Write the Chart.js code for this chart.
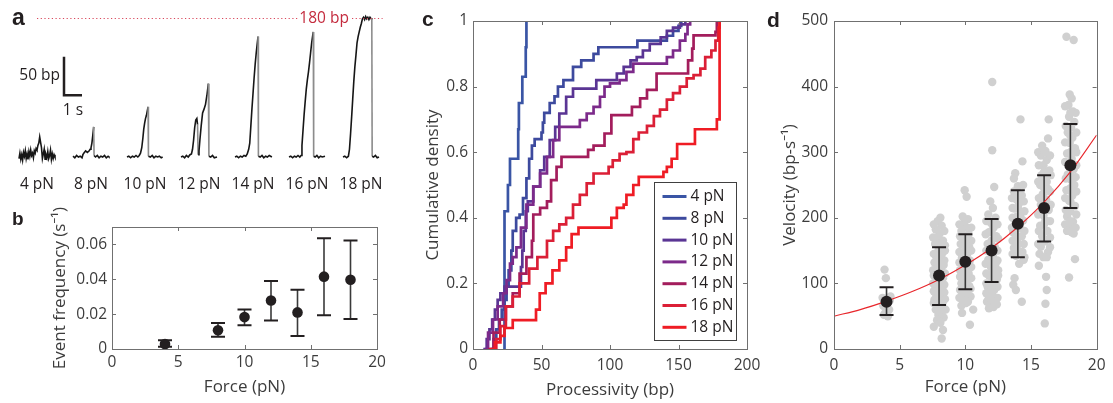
<!DOCTYPE html>
<html>
<head>
<meta charset="utf-8">
<script src="https://cdn.jsdelivr.net/npm/chart.js@4.4.0/dist/chart.umd.min.js"></script>
<style>
  body { margin: 0; background: #fff; width: 1113px; height: 403px; position: relative; overflow: hidden; }
  canvas { position: absolute; }
</style>
</head>
<body>
<canvas id="panelA" width="400" height="200" style="left:0;top:0"></canvas>
<canvas id="panelB" width="400" height="203" style="left:0;top:200px"></canvas>
<canvas id="panelC" width="380" height="403" style="left:400px;top:0"></canvas>
<canvas id="panelD" width="353" height="403" style="left:760px;top:0"></canvas>
<script>
// ---------- data ----------
const forces = [4, 8, 10, 12, 14, 16, 18];
const forceLabels = ['4 pN', '8 pN', '10 pN', '12 pN', '14 pN', '16 pN', '18 pN'];

// a: example traces, [time (s), position (bp)]
const trace4 = [[0,-2],[0.05,5],[0.1,-3],[0.15,3],[0.2,-4],[0.25,6],[0.3,1],[0.35,8],[0.4,-2],[0.45,4],[0.5,-3],[0.55,7],[0.6,1],[0.65,9],[0.7,2],[0.75,5],[0.8,-1],[0.85,8],[0.9,5],[0.95,11],[1.0,9],[1.05,15],[1.1,18],[1.15,26],[1.2,19],[1.25,12],[1.3,-2],[1.35,4],[1.4,10],[1.45,-3],[1.5,3],[1.55,-1],[1.6,7],[1.65,-2],[1.7,2],[1.75,9],[1.8,-3],[1.85,4],[1.9,-2],[1.95,3],[2.0,0]];
const trace8 = [[0,1],[0.1,-1],[0.2,2],[0.3,0],[0.4,1],[0.5,-1],[0.55,3],[0.6,5],[0.7,8],[0.8,6],[0.9,8],[0.95,10],[1.0,12],[1.05,18],[1.1,28],[1.15,39],[1.17,2],[1.25,0],[1.35,2],[1.45,-1],[1.55,1],[1.65,0],[1.75,2],[1.85,-1],[1.95,1],[2.0,0]];
const trace10 = [[0,0],[0.1,1],[0.2,-1],[0.3,1],[0.4,0],[0.5,2],[0.6,0],[0.68,2],[0.75,5],[0.82,12],[0.88,24],[0.93,36],[0.98,44],[1.03,50],[1.08,54],[1.13,60],[1.17,65],[1.19,1],[1.3,0],[1.4,2],[1.5,-1],[1.6,1],[1.7,0],[1.8,1],[1.9,-1],[1.98,0]];
const trace12 = [[0,0],[0.1,1],[0.2,-1],[0.3,2],[0.4,0],[0.5,3],[0.58,4],[0.64,10],[0.7,22],[0.76,38],[0.82,48],[0.88,50],[0.92,42],[0.95,3],[1.0,8],[1.05,22],[1.12,40],[1.2,57],[1.28,62],[1.36,68],[1.44,80],[1.52,95],[1.55,1],[1.65,0],[1.75,2],[1.85,-1],[2.0,0]];
const trace14 = [[0,0],[0.1,1],[0.2,-1],[0.3,1],[0.4,0],[0.5,2],[0.6,1],[0.68,4],[0.76,10],[0.82,18],[0.88,40],[0.94,62],[1.0,82],[1.06,102],[1.12,120],[1.18,135],[1.24,148],[1.28,156],[1.3,1],[1.4,0],[1.5,2],[1.6,-1],[1.7,1],[1.8,0],[1.9,2],[2.05,0]];
const trace16 = [[0,0],[0.1,1],[0.2,-1],[0.3,1],[0.4,0],[0.5,2],[0.6,0],[0.67,2],[0.72,15],[0.78,35],[0.84,55],[0.9,72],[0.96,88],[1.02,100],[1.08,110],[1.14,122],[1.2,135],[1.26,148],[1.32,158],[1.35,162],[1.37,1],[1.45,0],[1.55,2],[1.65,-1],[1.75,1],[1.85,0],[2.0,1]];
const trace18 = [[0,0],[0.1,1],[0.2,-1],[0.3,1],[0.36,10],[0.42,30],[0.48,52],[0.54,75],[0.6,98],[0.66,117],[0.72,132],[0.78,148],[0.84,156],[0.9,162],[0.96,168],[1.02,173],[1.08,179],[1.14,181],[1.2,178],[1.26,182],[1.32,179],[1.38,181],[1.44,178],[1.5,181],[1.56,179],[1.6,180],[1.62,1],[1.7,0],[1.8,2],[1.9,-1],[2.0,0]];
const traces = [trace4, trace8, trace10, trace12, trace14, trace16, trace18];
const traceGap = 3;        // s between trace starts
const fullLength = 180;    // bp

// b: event frequency (1/s)
const freqMean = [0.0028, 0.0108, 0.0183, 0.0278, 0.021, 0.0415, 0.0397];
const freqLow  = [0.0013, 0.007, 0.0136, 0.0164, 0.0075, 0.0193, 0.0172];
const freqHigh = [0.005, 0.0149, 0.0227, 0.039, 0.034, 0.0635, 0.0623];

// c: cumulative processivity, step vertices (bp, density)
const cdf4x  = [22, 23, 25.5, 27, 33, 33.5, 36, 38.5, 39];
const cdf4y  = [0, 0.42, 0.5, 0.58, 0.67, 0.75, 0.83, 0.92, 1];
const cdf8x  = [13, 15, 17, 19, 21, 23, 24.5, 26, 28, 29, 31.5, 34, 36.5, 39, 41, 43, 45, 50, 51, 52, 56, 59.5, 62, 66, 73, 79, 88, 91.5, 118, 120, 139, 141.5, 146, 150, 152];
const cdf8y  = [0, 0.03, 0.06, 0.09, 0.12, 0.15, 0.19, 0.24, 0.3, 0.36, 0.4, 0.41, 0.46, 0.52, 0.58, 0.62, 0.64, 0.66, 0.69, 0.72, 0.75, 0.77, 0.8, 0.82, 0.86, 0.88, 0.9, 0.92, 0.92, 0.94, 0.94, 0.955, 0.97, 0.985, 1];
const cdf10x = [7.5, 10, 12, 14, 16, 18, 20, 23, 34, 35, 36, 37, 38.5, 40, 44, 49, 52, 56, 60, 63, 68, 73, 88, 90, 102, 105, 110, 115, 119.5, 124, 129, 137, 141.5, 146, 151, 155];
const cdf10y = [0, 0.03, 0.06, 0.09, 0.12, 0.15, 0.17, 0.19, 0.19, 0.25, 0.3, 0.36, 0.42, 0.45, 0.495, 0.545, 0.586, 0.637, 0.677, 0.718, 0.769, 0.794, 0.794, 0.82, 0.82, 0.84, 0.86, 0.88, 0.89, 0.91, 0.93, 0.95, 0.97, 0.98, 0.99, 1];
const cdf12x = [8.5, 11, 14.6, 18, 22, 24.5, 27, 29, 31.7, 35, 39, 44, 49, 54, 58.5, 63, 78, 83, 88, 92.7, 96, 100, 107, 112, 117, 139, 141.5, 146, 151, 155, 156.6, 158.5];
const cdf12y = [0, 0.05, 0.09, 0.13, 0.17, 0.21, 0.26, 0.28, 0.31, 0.37, 0.44, 0.495, 0.535, 0.586, 0.637, 0.677, 0.698, 0.718, 0.738, 0.769, 0.8, 0.81, 0.82, 0.845, 0.87, 0.87, 0.89, 0.91, 0.94, 0.96, 0.99, 1];
const cdf14x = [11, 15, 19.5, 24, 29, 34, 39, 43, 44, 49, 54, 57, 61, 64.6, 83, 84, 88, 95, 96, 101, 115, 116, 122, 127, 134, 156, 157, 160, 161, 177, 178];
const cdf14y = [0, 0.05, 0.09, 0.13, 0.17, 0.23, 0.28, 0.33, 0.41, 0.43, 0.45, 0.515, 0.555, 0.586, 0.586, 0.607, 0.62, 0.62, 0.657, 0.713, 0.713, 0.738, 0.764, 0.79, 0.84, 0.84, 0.88, 0.916, 0.956, 0.967, 1];
const cdf16x = [14.6, 17, 20, 24, 29, 34, 41, 47, 54, 58.5, 63, 68, 73, 78, 83, 88, 95, 99, 102, 107, 112, 117, 121, 127, 132, 136.5, 141.5, 146, 151, 156, 161, 166, 169.5, 174, 177, 179, 180];
const cdf16y = [0, 0.03, 0.07, 0.13, 0.16, 0.2, 0.245, 0.28, 0.33, 0.36, 0.38, 0.4, 0.44, 0.47, 0.505, 0.535, 0.535, 0.555, 0.575, 0.595, 0.6, 0.64, 0.66, 0.68, 0.71, 0.73, 0.76, 0.78, 0.8, 0.825, 0.835, 0.855, 0.89, 0.91, 0.94, 0.98, 1];
const cdf18x = [12, 16, 20, 23, 29, 42.5, 46, 48.7, 53, 58, 63, 68, 72, 77, 100, 101, 105, 110, 112, 117, 121, 139, 141.5, 145, 149, 161, 162, 177, 178, 180, 180];
const cdf18y = [0, 0.02, 0.04, 0.064, 0.088, 0.088, 0.12, 0.17, 0.2, 0.24, 0.27, 0.31, 0.35, 0.37, 0.37, 0.4, 0.43, 0.44, 0.47, 0.5, 0.525, 0.54, 0.555, 0.58, 0.625, 0.625, 0.67, 0.67, 0.7, 0.7, 1];
const cdfX = [cdf4x, cdf8x, cdf10x, cdf12x, cdf14x, cdf16x, cdf18x];
const cdfY = [cdf4y, cdf8y, cdf10y, cdf12y, cdf14y, cdf16y, cdf18y];
const cdfColors = ['#3a55a5', '#3d4a9e', '#5a3594', '#7c2a8a', '#a31d5c', '#db1f36', '#ef1c24'];

// d: single-event velocities [force, bp/s]
const vel4  = [[3.85,121],[3.95,108],[3.7,78],[4.25,74],[3.75,66],[4.2,60],[3.9,55],[4.1,50],[3.8,52],[4.3,80]];
const vel8  = [[8.1,200],[7.9,195],[8.2,188],[7.75,182],[8.05,176],[7.85,170],[8.3,165],[7.7,160],[8.15,155],[7.95,150],[8.25,146],[7.8,140],[8.05,136],[7.65,132],[8.35,128],[7.9,124],[8.15,120],[7.75,116],[8.0,112],[8.3,108],[7.85,104],[8.1,100],[7.7,96],[8.25,92],[7.95,88],[8.4,86],[7.8,82],[8.1,78],[7.65,75],[8.3,72],[7.9,68],[8.05,64],[7.75,60],[8.2,56],[7.95,52],[8.35,48],[7.85,44],[8.1,40],[7.6,34],[8.3,29],[8.2,16],[8.5,60],[7.55,120],[8.45,150],
               [7.6,190],[8.4,180],[7.55,170],[8.45,158],[7.6,145],[8.4,135],[7.6,112],[8.45,115],[7.55,100],[8.4,98],[7.6,88],[8.45,76],[7.6,70],[8.0,160],[8.0,140],[8.0,125],[8.0,95],[8.0,82],[8.0,58],[8.15,70],[7.85,115],[8.2,132]];
const vel10 = [[9.95,242],[10.1,232],[9.8,202],[10.2,198],[9.9,192],[10.05,186],[9.7,180],[10.25,175],[9.85,170],[10.1,165],[9.65,160],[10.3,155],[9.95,150],[10.15,145],[9.75,140],[10.35,135],[9.9,130],[10.05,125],[9.6,120],[10.25,115],[9.85,110],[10.1,105],[9.7,100],[10.3,96],[9.95,92],[10.15,88],[9.8,84],[10.4,80],[9.9,75],[10.05,70],[9.7,66],[9.75,55],[10.6,60],[10.35,37],
               [9.55,190],[10.45,185],[9.6,172],[10.45,165],[9.55,148],[10.45,150],[9.55,132],[10.45,125],[9.6,110],[10.45,108],[9.6,90],[10.4,92],[10.0,160],[10.0,140],[10.0,118],[10.0,100],[10.0,85],[10.2,72],[9.8,74],[9.55,78]];
const vel12 = [[12.05,407],[12.05,303],[12.2,247],[11.9,225],[12.1,215],[11.75,205],[12.3,200],[11.95,192],[12.15,185],[11.8,178],[12.35,172],[12.0,165],[11.7,160],[12.25,155],[11.9,148],[12.1,142],[11.75,136],[12.3,130],[11.95,125],[12.15,118],[11.8,112],[12.4,106],[12.0,100],[11.7,95],[12.2,90],[11.9,85],[12.1,80],[11.75,75],[12.3,72],[11.95,68],[12.15,64],[11.8,62],[12.4,68],[11.6,85],[12.5,120],
               [11.6,195],[12.45,190],[11.55,175],[12.5,168],[11.6,150],[12.45,150],[11.55,130],[12.45,135],[11.6,115],[12.5,112],[11.6,100],[12.45,95],[11.65,72],[12.45,78],[12.0,180],[12.0,150],[12.0,130],[12.0,110],[12.0,90],[12.0,75],[12.25,110],[11.85,100]];
const vel14 = [[14.2,350],[14.35,286],[13.8,268],[14.0,248],[13.7,240],[14.3,234],[13.9,228],[14.1,222],[13.75,214],[14.25,208],[13.95,202],[14.4,196],[13.8,190],[14.15,184],[13.65,178],[14.3,172],[13.9,166],[14.05,160],[13.7,154],[14.35,148],[13.85,142],[14.45,136],[14.1,130],[13.75,108],[13.65,98],[13.85,90],[14.3,72],[14.5,140],[13.6,200],
               [13.55,230],[14.45,225],[13.6,215],[14.5,210],[13.55,185],[14.5,180],[13.6,165],[14.45,160],[13.6,145],[14.0,235],[14.0,215],[14.0,190],[14.0,170],[14.0,150],[14.2,200],[13.8,175],[14.4,250],[13.7,260]];
const vel16 = [[16.35,350],[16.3,321],[15.85,310],[16.1,302],[15.75,295],[16.2,288],[15.95,280],[16.4,272],[15.8,265],[16.05,258],[15.7,250],[16.3,244],[15.9,236],[16.15,228],[15.75,220],[16.35,212],[15.95,204],[16.1,196],[15.7,188],[16.25,180],[15.85,172],[16.05,164],[15.75,156],[16.3,148],[15.95,140],[15.6,127],[16.2,140],[16.15,110],[16.2,90],[16.1,69],[16.05,39],
               [15.55,300],[16.45,295],[15.6,280],[16.5,265],[15.55,255],[16.45,240],[15.6,230],[16.5,220],[15.55,205],[16.45,195],[15.6,180],[16.45,170],[15.55,160],[16.45,155],[16.0,300],[16.0,270],[16.0,245],[16.0,215],[16.0,190],[16.0,165],[16.2,255],[15.8,232],[15.65,145]];
const vel18 = [[17.7,476],[18.25,471],[17.95,388],[18.1,382],[17.85,372],[18.2,362],[17.9,354],[18.3,346],[18.05,338],[17.8,330],[18.15,322],[17.95,314],[18.35,306],[17.75,298],[18.1,290],[17.9,282],[18.25,274],[17.8,266],[18.05,258],[18.3,250],[17.7,242],[18.15,234],[17.9,226],[18.35,218],[18.0,210],[17.75,202],[18.2,194],[17.85,186],[18.1,178],[18.35,137],[17.9,109],
               [17.6,370],[18.4,360],[17.65,340],[18.45,330],[17.6,315],[18.45,300],[17.6,285],[18.45,280],[17.65,260],[18.4,262],[17.6,230],[18.45,240],[17.65,212],[18.45,205],[17.6,190],[18.4,185],[18.0,360],[18.0,325],[18.0,300],[18.0,270],[18.0,245],[18.0,225],[18.0,195],[17.75,180],[18.25,176]];
const velMean = [72, 112, 133, 150, 191, 215, 280];
const velLow  = [52, 67, 91, 102, 140, 164, 215];
const velHigh = [94, 155, 175, 198, 242, 265, 343];
const fitForce = [0, 2, 4, 6, 8, 10, 12, 14, 16, 18, 20];
const fitVel   = [50, 60, 73, 88, 106, 128, 154, 186, 224, 270, 326];

// ---------- shared styling ----------
Chart.defaults.font.family = "'Open Sans', 'Noto Sans', sans-serif";
Chart.defaults.color = '#3c3c3c';
Chart.defaults.animation = false;
Chart.defaults.events = [];
Chart.defaults.plugins.legend.display = false;
Chart.defaults.plugins.tooltip.enabled = false;

const TICK_FONT = { size: 15.5 };
const TITLE_FONT = { size: 17 };
const INK = '#231f20';

// MATLAB-like box with inward ticks on all four sides
const frame = {
  id: 'frame',
  afterDraw(chart) {
    const { ctx, chartArea: a, scales } = chart;
    ctx.save();
    ctx.strokeStyle = '#707070';
    ctx.lineWidth = 1;
    ctx.strokeRect(Math.round(a.left) + 0.5, Math.round(a.top) + 0.5, Math.round(a.right - a.left), Math.round(a.bottom - a.top));
    ctx.beginPath();
    scales.x.ticks.forEach(t => {
      const px = Math.round(scales.x.getPixelForValue(t.value)) + 0.5;
      ctx.moveTo(px, a.bottom); ctx.lineTo(px, a.bottom - 4);
      ctx.moveTo(px, a.top); ctx.lineTo(px, a.top + 4);
    });
    scales.y.ticks.forEach(t => {
      const py = Math.round(scales.y.getPixelForValue(t.value)) + 0.5;
      ctx.moveTo(a.left, py); ctx.lineTo(a.left + 4, py);
      ctx.moveTo(a.right, py); ctx.lineTo(a.right - 4, py);
    });
    ctx.stroke();
    ctx.restore();
  }
};

const panelLetter = {
  id: 'panelLetter',
  afterDraw(chart, args, opts) {
    if (!opts.text) return;
    const ctx = chart.ctx;
    ctx.save();
    ctx.fillStyle = INK;
    ctx.font = `bold ${opts.size}px 'Liberation Sans', Arial, sans-serif`;
    ctx.textBaseline = 'alphabetic';
    ctx.fillText(opts.text, opts.x, opts.y);
    ctx.restore();
  }
};

function errorBars(ctx, xs, ys, xVals, lows, highs, cap) {
  ctx.save();
  for (let i = 0; i < xVals.length; i++) {
    const x = xs.getPixelForValue(xVals[i]);
    const y0 = ys.getPixelForValue(lows[i]);
    const y1 = ys.getPixelForValue(highs[i]);
    ctx.strokeStyle = '#3a3a3a';
    ctx.lineWidth = 1.6;
    ctx.beginPath(); ctx.moveTo(x, y0); ctx.lineTo(x, y1); ctx.stroke();
    ctx.strokeStyle = INK;
    ctx.lineWidth = 2;
    ctx.beginPath();
    ctx.moveTo(x - cap, y0); ctx.lineTo(x + cap, y0);
    ctx.moveTo(x - cap, y1); ctx.lineTo(x + cap, y1);
    ctx.stroke();
  }
  ctx.restore();
}

function linAxis(min, max, step, fit, tickPad, title, titlePad) {
  return {
    type: 'linear', min, max,
    grid: { display: false, drawTicks: false },
    border: { display: false },
    ticks: { stepSize: step, font: TICK_FONT, padding: tickPad, includeBounds: false,
             callback: v => String(Math.round(v * 100) / 100) },
    title: { display: true, text: title, font: TITLE_FONT, padding: titlePad },
    afterFit: fit
  };
}

// ---------- a: traces ----------
const traceDatasets = traces.map((tr, k) => ({
  data: tr.map(p => ({ x: p[0] + k * traceGap, y: p[1] })),
  borderColor: '#161616',
  borderWidth: 1.6,
  pointRadius: 0,
  segment: { borderColor: c => (c.p0.parsed.y - c.p1.parsed.y > 15 ? '#8c8c8c' : undefined) }
}));

const traceDecor = {
  id: 'traceDecor',
  afterDatasetsDraw(chart) {
    const { ctx, scales: { x: xs, y: ys } } = chart;
    ctx.save();
    // full-length reference line
    const yRef = Math.round(ys.getPixelForValue(fullLength)) + 0.5;
    ctx.strokeStyle = '#d9485c';
    ctx.lineWidth = 1.2;
    ctx.setLineDash([1.2, 2.5]);
    ctx.beginPath();
    ctx.moveTo(xs.getPixelForValue(1.0), yRef); ctx.lineTo(xs.getPixelForValue(15.5), yRef);
    ctx.moveTo(xs.getPixelForValue(18.5), yRef); ctx.lineTo(xs.getPixelForValue(20.2), yRef);
    ctx.stroke();
    ctx.setLineDash([]);
    ctx.fillStyle = '#c42b3e';
    ctx.font = "15.5px 'Open Sans', sans-serif";
    ctx.textAlign = 'center';
    ctx.textBaseline = 'middle';
    ctx.fillText(fullLength + ' bp', xs.getPixelForValue(16.95), yRef);
    // scale bar: 50 bp, 1 s
    const bx = xs.getPixelForValue(2.5), by0 = ys.getPixelForValue(80), by1 = ys.getPixelForValue(130);
    const bx1 = xs.getPixelForValue(3.5);
    ctx.strokeStyle = INK;
    ctx.lineWidth = 2.5;
    ctx.beginPath();
    ctx.moveTo(bx, by1); ctx.lineTo(bx, by0); ctx.lineTo(bx1, by0);
    ctx.stroke();
    ctx.fillStyle = INK;
    ctx.textAlign = 'right';
    ctx.fillText('50 bp', bx - 4, (by0 + by1) / 2);
    ctx.textAlign = 'center';
    ctx.fillText('1 s', (bx + bx1) / 2, by0 + 15);
    // force labels under each trace
    forceLabels.forEach((t, k) => ctx.fillText(t, xs.getPixelForValue(k * traceGap + 1), 185));
    ctx.restore();
  }
};

new Chart(document.getElementById('panelA'), {
  type: 'line',
  data: { datasets: traceDatasets },
  options: {
    responsive: false,
    layout: { padding: 0 },
    scales: {
      x: { type: 'linear', display: false, min: -19 / 18, max: 381 / 18 },
      y: { type: 'linear', display: false, min: -43 / 0.772, max: 157 / 0.772 }
    },
    plugins: { panelLetter: { text: 'a', x: 12, y: 25, size: 23 } }
  },
  plugins: [traceDecor, panelLetter]
});

// ---------- b: event frequency ----------
new Chart(document.getElementById('panelB'), {
  type: 'scatter',
  data: { datasets: [{
    data: forces.map((f, i) => ({ x: f, y: freqMean[i] })),
    backgroundColor: INK, borderWidth: 0, pointRadius: 5.3
  }] },
  options: {
    responsive: false,
    layout: { padding: { left: 50, top: 27, right: 23, bottom: 0 } },
    scales: {
      x: linAxis(0, 20, 5, s => { s.height = 54; }, 4, 'Force (pN)', { top: 0, bottom: 6 }),
      y: linAxis(0, 0.07, 0.02, s => { s.width = 62; }, 5, 'Event frequency (s\u207B\u00B9)', { top: 0, bottom: 0 })
    },
    plugins: { panelLetter: { text: 'b', x: 12, y: 25, size: 19 } }
  },
  plugins: [frame, panelLetter, {
    id: 'freqErr',
    beforeDatasetsDraw(chart) {
      errorBars(chart.ctx, chart.scales.x, chart.scales.y, forces, freqLow, freqHigh, 7);
    }
  }]
});

// ---------- c: cumulative processivity ----------
const cdfLegend = {
  id: 'cdfLegend',
  afterDraw(chart) {
    const { ctx, chartArea: a } = chart;
    const w = 82, h = 158;
    const x0 = Math.round(a.right - 11 - w) + 0.5, y0 = Math.round(a.bottom - 9 - h) + 0.5;
    ctx.save();
    ctx.fillStyle = '#fff';
    ctx.fillRect(x0, y0, w, h);
    ctx.strokeStyle = '#404040';
    ctx.lineWidth = 1;
    ctx.strokeRect(x0, y0, w, h);
    ctx.font = "15.5px 'Open Sans', sans-serif";
    ctx.textBaseline = 'middle';
    chart.data.datasets.forEach((ds, i) => {
      const y = y0 + 14 + i * 21.8;
      ctx.strokeStyle = ds.borderColor;
      ctx.lineWidth = 3;
      ctx.beginPath(); ctx.moveTo(x0 + 8, y); ctx.lineTo(x0 + 32, y); ctx.stroke();
      ctx.fillStyle = INK;
      ctx.fillText(ds.label, x0 + 36, y);
    });
    ctx.restore();
  }
};

new Chart(document.getElementById('panelC'), {
  type: 'line',
  data: { datasets: cdfX.map((xs, i) => ({
    label: forceLabels[i],
    data: xs.map((v, j) => ({ x: v, y: cdfY[i][j] })),
    borderColor: cdfColors[i],
    borderWidth: 2.7,
    pointRadius: 0,
    stepped: 'before',
    order: cdfX.length - 1 - i
  })) },
  options: {
    responsive: false,
    layout: { padding: { left: 23, top: 21, right: 33, bottom: 0 } },
    scales: {
      x: linAxis(0, 200, 50, s => { s.height = 54; }, 7.5, 'Processivity (bp)', { top: 0, bottom: 3 }),
      y: linAxis(0, 1, 0.2, s => { s.width = 50; }, 5, 'Cumulative density', { top: 0, bottom: 0 })
    },
    plugins: { panelLetter: { text: 'c', x: 22, y: 26, size: 21 } }
  },
  plugins: [frame, cdfLegend, panelLetter]
});

// ---------- d: velocity vs force ----------
const velPoints = [vel4, vel8, vel10, vel12, vel14, vel16, vel18].flat().map(p => ({ x: p[0], y: p[1] }));

new Chart(document.getElementById('panelD'), {
  type: 'scatter',
  data: { datasets: [
    { data: forces.map((f, i) => ({ x: f, y: velMean[i] })), backgroundColor: INK, borderWidth: 0, pointRadius: 6, order: 0 },
    { data: fitForce.map((f, i) => ({ x: f, y: fitVel[i] })), showLine: true, borderColor: '#e8262b', borderWidth: 1.1,
      pointRadius: 0, cubicInterpolationMode: 'monotone', order: 1 },
    { data: velPoints, backgroundColor: '#d0d0d0', borderWidth: 0, pointRadius: 4.2, order: 2 }
  ] },
  options: {
    responsive: false,
    layout: { padding: { left: 20, top: 21, right: 10, bottom: 0 } },
    scales: {
      x: linAxis(0, 20, 5, s => { s.height = 54; }, 7.5, 'Force (pN)', { top: 0, bottom: 6 }),
      y: linAxis(0, 500, 100, s => { s.width = 54; }, 6, 'Velocity (bp-s\u207B\u00B9)', { top: 0, bottom: 0 })
    },
    plugins: { panelLetter: { text: 'd', x: 7, y: 27, size: 21 } }
  },
  plugins: [frame, panelLetter, {
    id: 'velErr',
    afterDatasetDraw(chart, args) {
      if (args.index === 2) errorBars(chart.ctx, chart.scales.x, chart.scales.y, forces, velLow, velHigh, 7);
    }
  }]
});
</script>
</body>
</html>
